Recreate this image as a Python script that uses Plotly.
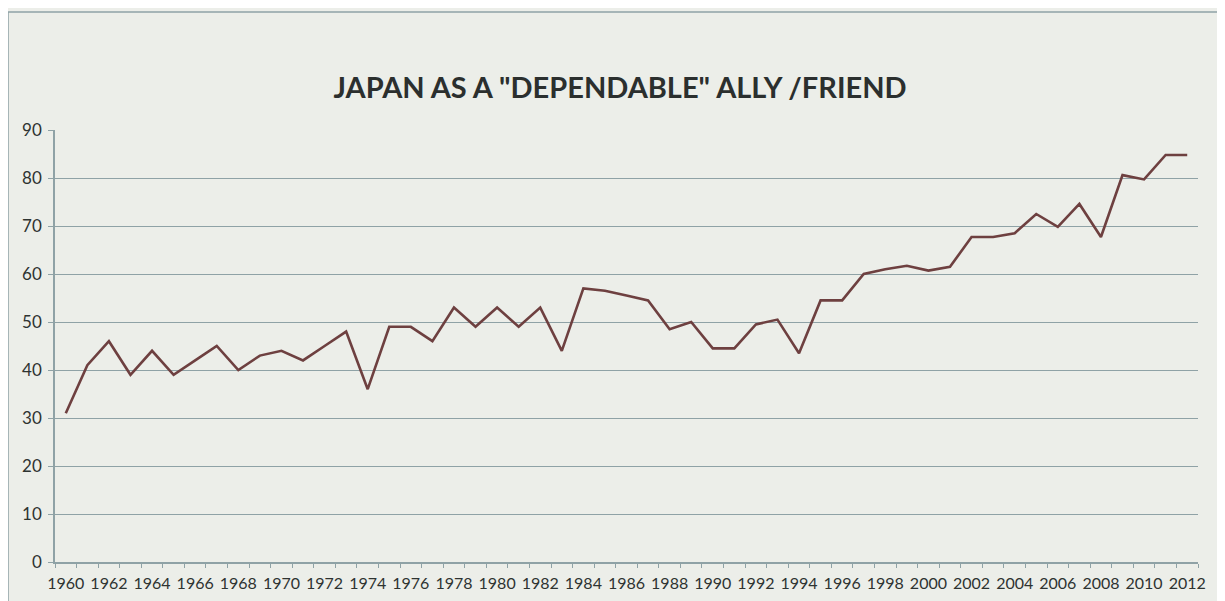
import plotly.graph_objects as go

years = list(range(1960, 2013))
dependable = [31, 41, 46, 39, 44, 39, 42, 45, 40, 43,
              44, 42, 45, 48, 36, 49, 49, 46, 53, 49,
              53, 49, 53, 44, 57, 56.5, 55.5, 54.5, 48.5, 50,
              44.5, 44.5, 49.5, 50.5, 43.5, 54.5, 54.5, 60, 61, 61.7,
              60.7, 61.5, 67.7, 67.7, 68.5, 72.5, 69.8, 74.6, 67.7, 80.6,
              79.7, 84.8, 84.8]
y_ticks = list(range(0, 100, 10))
x_ticks = list(range(1960, 2013, 2))
title_text = 'JAPAN AS A "DEPENDABLE" ALLY /FRIEND'

fig = go.Figure()
fig.add_trace(go.Scatter(x=years, y=dependable, mode="lines",
                         line=dict(color="#6e4040", width=2.6),
                         showlegend=False, hoverinfo="x+y"))

OFF = 8  # page offset of the figure in the screenshot
W, H = 1225, 601
L, T = 55 - OFF, 130 - OFF
R = (W + OFF) - 1198
B = (H + OFF) - 562
pw, ph = W - L - R, H - T - B

fig.update_layout(
    width=W, height=H,
    margin=dict(l=L, r=R, t=T, b=B),
    paper_bgcolor="#eceee9",
    plot_bgcolor="#eceee9",
    title=dict(text=title_text, x=(620 - OFF - L) / pw, xref="paper", xanchor="center",
               y=1 - (88 - OFF) / H, yanchor="middle",
               font=dict(family="Lato", size=29, color="#2b2f2e", weight="bold")),
    font=dict(family="Lato", color="#333735"),
    shapes=[dict(type="rect", xref="paper", yref="paper",
                 x0=(8 - OFF - L) / pw, x1=(W + 20 - L) / pw,
                 y0=-(B + 20) / ph, y1=(H - (12 - OFF) - B) / ph,
                 line=dict(color="#8fa2a6", width=1.5), layer="below")],
)
fig.update_xaxes(range=[1959.5, 2012.5], tickmode="array", tickvals=x_ticks,
                 ticktext=[str(v) for v in x_ticks], showgrid=False,
                 showline=True, linecolor="#8fa2a6", linewidth=1.5,
                 ticks="", tickfont=dict(size=16, color="#2e3331"),
                 ticklabelstandoff=6,
                 minor=dict(ticks="outside", tick0=1959.5, dtick=1, ticklen=4,
                            tickcolor="#8fa2a6", showgrid=False),
                 zeroline=False, fixedrange=True)
fig.update_yaxes(range=[0, 90], tickmode="array", tickvals=y_ticks,
                 showgrid=True, gridcolor="#8fa2a6", gridwidth=1.3,
                 showline=True, linecolor="#8fa2a6", linewidth=1.5,
                 ticks="outside", ticklen=5, tickcolor="#8fa2a6",
                 tickfont=dict(size=17, color="#2e3331"),
                 ticklabelstandoff=3,
                 zeroline=False, fixedrange=True)

fig.write_html("out.html")
